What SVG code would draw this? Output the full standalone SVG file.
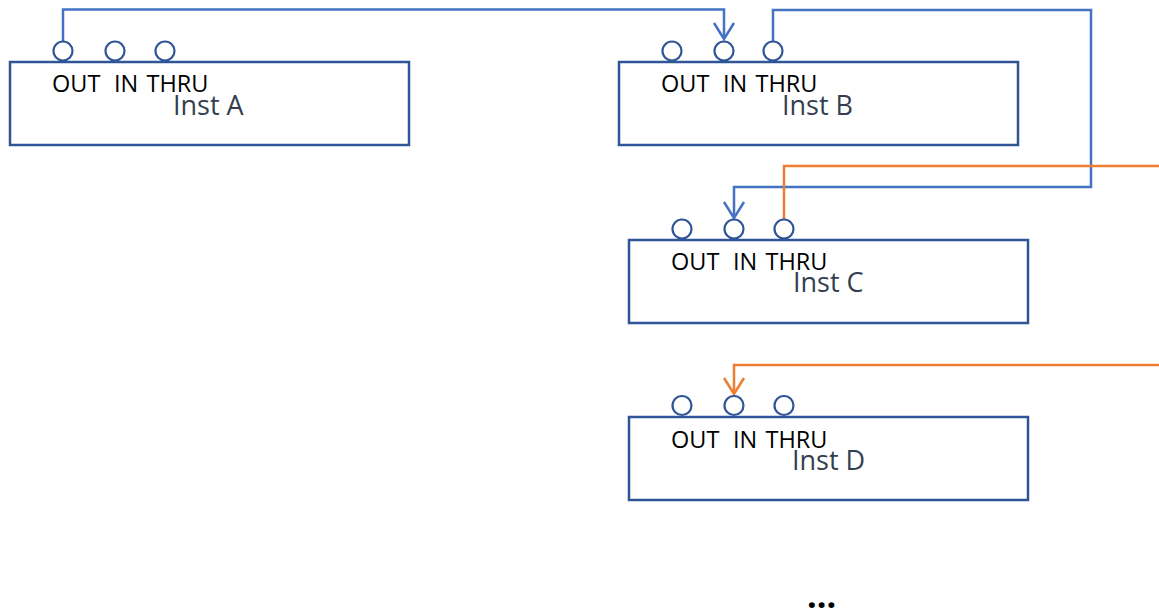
<svg xmlns="http://www.w3.org/2000/svg" width="1159" height="610" viewBox="0 0 1159 610">
  <style>
    .box { fill: #ffffff; stroke: #2f5597; stroke-width: 2.5; }
    .port { fill: #ffffff; stroke: #2f5597; stroke-width: 2.2; }
    .ports { font-family: "Open Sans", "Liberation Sans", sans-serif; font-size: 23.5px; fill: #000000; }
    .name { font-family: "Open Sans", "Liberation Sans", sans-serif; font-size: 27px; fill: #333f50; }
    .wire { fill: none; stroke-width: 2.5; }
    .blue { stroke: #4472c4; }
    .orange { stroke: #ed7d31; }
    .more { font-family: "Open Sans", "Liberation Sans", sans-serif; font-size: 34px; font-weight: bold; fill: #000000; }
  </style>
  <defs>
    <marker id="arrow-blue" markerUnits="userSpaceOnUse" viewBox="-18 -12 20 24" markerWidth="20" markerHeight="24" refX="0" refY="0" orient="auto">
      <path d="M-16,-10 L0,0 L-16,10" fill="none" stroke="#4472c4" stroke-width="2.5"/>
    </marker>
    <marker id="arrow-orange" markerUnits="userSpaceOnUse" viewBox="-18 -12 20 24" markerWidth="20" markerHeight="24" refX="0" refY="0" orient="auto">
      <path d="M-16,-10 L0,0 L-16,10" fill="none" stroke="#ed7d31" stroke-width="2.5"/>
    </marker>
  </defs>

  <!-- MIDI chain wiring -->
  <g id="connectors">
    <path class="wire blue" d="M63,41.5 V9.5 H724 V39" marker-end="url(#arrow-blue)"/>
    <path class="wire blue" d="M773,41.5 V10 H1091 V187 H734 V218" marker-end="url(#arrow-blue)"/>
    <path class="wire orange" d="M784,219 V166 H1159"/>
    <path class="wire orange" d="M1159,365 H734 V394" marker-end="url(#arrow-orange)"/>
  </g>

  <g id="inst-a">
    <rect class="box" x="10" y="62" width="399" height="83"/>
    <circle class="port" cx="63" cy="51" r="9.5"/>
    <circle class="port" cx="115" cy="51" r="9.5"/>
    <circle class="port" cx="165" cy="51" r="9.5"/>
    <text class="ports" x="52" y="92">OUT <tspan x="114">IN</tspan> <tspan x="146.5">THRU</tspan></text>
    <text class="name" x="173" y="115">Inst A</text>
  </g>

  <g id="inst-b">
    <rect class="box" x="619" y="62" width="399" height="83"/>
    <circle class="port" cx="672" cy="51" r="9.5"/>
    <circle class="port" cx="724" cy="51" r="9.5"/>
    <circle class="port" cx="773" cy="51" r="9.5"/>
    <text class="ports" x="661" y="92">OUT <tspan x="723">IN</tspan> <tspan x="755.5">THRU</tspan></text>
    <text class="name" x="782" y="115">Inst B</text>
  </g>

  <g id="inst-c">
    <rect class="box" x="629" y="240" width="399" height="83"/>
    <circle class="port" cx="682" cy="229" r="9.5"/>
    <circle class="port" cx="734" cy="229" r="9.5"/>
    <circle class="port" cx="784" cy="229" r="9.5"/>
    <text class="ports" x="671" y="270">OUT <tspan x="733">IN</tspan> <tspan x="765.5">THRU</tspan></text>
    <text class="name" x="793" y="292">Inst C</text>
  </g>

  <g id="inst-d">
    <rect class="box" x="629" y="417" width="399" height="83"/>
    <circle class="port" cx="682" cy="405.5" r="9.5"/>
    <circle class="port" cx="734" cy="405.5" r="9.5"/>
    <circle class="port" cx="784" cy="405.5" r="9.5"/>
    <text class="ports" x="671" y="448">OUT <tspan x="733">IN</tspan> <tspan x="765.5">THRU</tspan></text>
    <text class="name" x="792" y="470">Inst D</text>
  </g>

  <text class="more" x="807" y="608">...</text>
</svg>
